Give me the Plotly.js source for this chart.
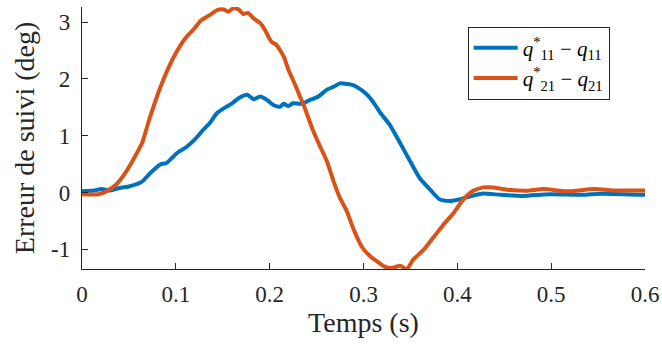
<!DOCTYPE html>
<html>
<head>
<meta charset="utf-8">
<script src="https://cdn.plot.ly/plotly-3.0.1.min.js"></script>
<style>html,body{margin:0;padding:0;background:#fff;}#chart{width:662px;height:346px;}</style>
</head>
<body>
<div id="chart"></div>
<script>
// Time (s) and tracking error (deg)
const tQ11 = [0, 0.012, 0.021, 0.030, 0.040, 0.051, 0.064, 0.072, 0.083, 0.090, 0.101, 0.112, 0.120, 0.129, 0.136, 0.144, 0.151, 0.160, 0.167, 0.176, 0.183, 0.190, 0.197, 0.204, 0.211, 0.215, 0.220, 0.225, 0.234, 0.243, 0.252, 0.261, 0.268, 0.275, 0.282, 0.289, 0.298, 0.305, 0.312, 0.318, 0.328, 0.339, 0.350, 0.360, 0.371, 0.381, 0.392, 0.403, 0.413, 0.426, 0.446, 0.470, 0.498, 0.534, 0.552, 0.600];
const eQ11 = [0.02, 0.035, 0.06, 0.035, 0.08, 0.11, 0.19, 0.33, 0.49, 0.52, 0.69, 0.81, 0.93, 1.10, 1.22, 1.40, 1.48, 1.57, 1.66, 1.72, 1.64, 1.69, 1.63, 1.54, 1.51, 1.56, 1.52, 1.57, 1.56, 1.63, 1.69, 1.81, 1.86, 1.92, 1.91, 1.89, 1.80, 1.70, 1.55, 1.40, 1.19, 0.87, 0.54, 0.25, 0.05, -0.12, -0.15, -0.12, -0.07, -0.02, -0.04, -0.06, -0.03, -0.04, -0.02, -0.04];

const tQ21 = [0, 0.017, 0.026, 0.037, 0.046, 0.055, 0.064, 0.072, 0.083, 0.092, 0.101, 0.110, 0.119, 0.127, 0.136, 0.144, 0.151, 0.156, 0.161, 0.167, 0.172, 0.177, 0.183, 0.190, 0.195, 0.202, 0.207, 0.215, 0.220, 0.227, 0.232, 0.236, 0.246, 0.254, 0.261, 0.268, 0.275, 0.282, 0.289, 0.298, 0.307, 0.316, 0.322, 0.330, 0.339, 0.346, 0.353, 0.364, 0.374, 0.385, 0.396, 0.406, 0.417, 0.428, 0.438, 0.453, 0.474, 0.492, 0.517, 0.545, 0.570, 0.600];
const eQ21 = [-0.03, -0.03, 0.02, 0.15, 0.34, 0.59, 0.87, 1.30, 1.83, 2.19, 2.48, 2.71, 2.87, 3.03, 3.12, 3.21, 3.22, 3.18, 3.24, 3.22, 3.14, 3.16, 3.06, 2.98, 2.86, 2.65, 2.60, 2.39, 2.16, 1.90, 1.70, 1.55, 1.10, 0.80, 0.55, 0.20, -0.10, -0.32, -0.63, -0.95, -1.12, -1.23, -1.30, -1.33, -1.29, -1.35, -1.18, -1.01, -0.80, -0.57, -0.36, -0.13, 0.03, 0.09, 0.09, 0.05, 0.03, 0.06, 0.02, 0.06, 0.035, 0.035];

const seriesNames = ['<i>q</i><sup>*</sup><sub>11</sub> − <i>q</i><sub>11</sub>', '<i>q</i><sup>*</sup><sub>21</sub> − <i>q</i><sub>21</sub>'];
const xTickVals = [0, 0.1, 0.2, 0.3, 0.4, 0.5, 0.6];
const xTickText = ['0', '0.1', '0.2', '0.3', '0.4', '0.5', '0.6'];
const yTickVals = [-1, 0, 1, 2, 3];
const yTickText = ['-1', '0', '1', '2', '3'];

const serif = '"Liberation Serif", "Times New Roman", serif';
const axisColor = '#262626';

const traces = [
  {x: tQ11, y: eQ11, name: seriesNames[0], mode: 'lines', line: {color: '#0072BD', width: 4, shape: 'spline', smoothing: 0.6}},
  {x: tQ21, y: eQ21, name: seriesNames[1], mode: 'lines', line: {color: '#D95319', width: 4, shape: 'spline', smoothing: 0.6}}
];

const layout = {
  width: 662, height: 346,
  margin: {l: 82, r: 17, t: 7, b: 77},
  paper_bgcolor: '#fff', plot_bgcolor: '#fff',
  font: {family: serif, color: axisColor, size: 23},
  showlegend: true,
  legend: {
    x: 0.685, y: 0.925, xanchor: 'left', yanchor: 'top',
    bordercolor: axisColor, borderwidth: 1, bgcolor: '#fff',
    font: {family: serif, size: 21, color: '#000'},
    itemwidth: 44,
    tracegroupgap: 0
  },
  xaxis: {
    range: [0, 0.6], tickvals: xTickVals, ticktext: xTickText,
    ticks: 'inside', ticklen: 6, tickwidth: 1, tickcolor: axisColor,
    showline: true, linecolor: axisColor, linewidth: 1.2, mirror: false,
    showgrid: false, zeroline: false,
    ticklabelstandoff: 4,
    tickfont: {family: serif, size: 23, color: axisColor},
    title: {text: 'Temps (s)', font: {family: serif, size: 28, color: axisColor}, standoff: 6}
  },
  yaxis: {
    range: [-1.346, 3.264], tickvals: yTickVals, ticktext: yTickText,
    ticks: 'inside', ticklen: 6, tickwidth: 1, tickcolor: axisColor,
    showline: true, linecolor: axisColor, linewidth: 1.2, mirror: false,
    showgrid: false, zeroline: false,
    ticklabelstandoff: 6,
    tickfont: {family: serif, size: 23, color: axisColor},
    title: {text: 'Erreur de suivi (deg)', font: {family: serif, size: 28, color: axisColor}, standoff: 8}
  }
};

Plotly.newPlot('chart', traces, layout, {displayModeBar: false, staticPlot: true});
</script>
</body>
</html>
